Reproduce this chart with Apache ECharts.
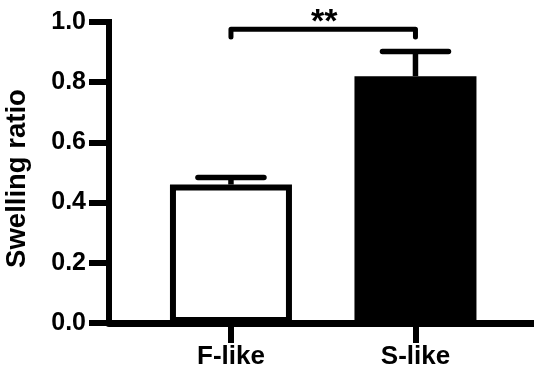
<!DOCTYPE html>
<html>
<head>
<meta charset="utf-8">
<script src="https://cdn.jsdelivr.net/npm/echarts@6/dist/echarts.min.js"></script>
<style>
html,body{margin:0;padding:0;background:#fff;}
#chart{width:534px;height:377px;}
</style>
</head>
<body>
<div id="chart"></div>
<script>
// ---- data ----
const categories = ['F-like', 'S-like'];
const categoryPositions = [0, 1];
const means = [0.46, 0.82];
const sems = [0.023, 0.082];
const barFills = ['#ffffff', '#000000'];
const sigPair = [0, 1];
const sigLevel = 0.976;
const sigDrop = 0.95;
const sigLabel = '**';
const yName = 'Swelling ratio';

// ---- chart ----
const FONT = '"Liberation Sans", Arial, Helvetica, sans-serif';
const chart = echarts.init(document.getElementById('chart'), null, {renderer: 'canvas'});

const barData = categoryPositions.map((p, i) => ({
  value: [p, means[i]],
  itemStyle: {color: barFills[i], borderColor: '#000', borderWidth: 6}
}));
const errData = categoryPositions.map((p, i) => [p, means[i], sems[i]]);
const sigData = [[sigPair[0], sigPair[1], sigLevel, sigDrop]];

const option = {
  animation: false,
  grid: {left: 109, right: 1, top: 22, bottom: 54, outerBoundsMode: 'none', containLabel: false},
  xAxis: {
    type: 'value',
    min: -0.661,
    max: 1.637,
    splitLine: {show: false},
    axisLine: {show: true, lineStyle: {color: '#000', width: 7}},
    axisTick: {show: true, customValues: categoryPositions, length: 20, lineStyle: {color: '#000', width: 6}},
    axisLabel: {
      customValues: categoryPositions,
      formatter: v => categories[Math.round(v)],
      margin: 21,
      color: '#000',
      fontSize: 26,
      fontWeight: 'bold',
      fontFamily: FONT
    }
  },
  yAxis: {
    type: 'value',
    min: 0,
    max: 1,
    interval: 0.2,
    name: yName,
    nameLocation: 'middle',
    nameGap: 78,
    nameMoveOverlap: false,
    nameTextStyle: {color: '#000', fontSize: 27.5, fontWeight: 'bold', fontFamily: FONT, padding: [0, 12, 0, 0]},
    splitLine: {show: false},
    axisLine: {show: true, onZero: false, lineStyle: {color: '#000', width: 6, cap: 'square'}},
    axisTick: {show: true, length: 20, lineStyle: {color: '#000', width: 6}},
    axisLabel: {
      margin: 23,
      color: '#000',
      fontSize: 25,
      fontWeight: 'bold',
      fontFamily: FONT,
      formatter: v => v.toFixed(1)
    }
  },
  series: [
    {
      type: 'bar',
      data: barData,
      barWidth: 122,
      z: 2
    },
    {
      type: 'custom',
      z: 3,
      data: errData,
      renderItem: function (params, api) {
        const x = api.value(0), m = api.value(1), s = api.value(2);
        const base = api.coord([x, m]);
        const top = api.coord([x, m + s]);
        const half = 33;
        const st = {stroke: '#000', lineWidth: 5.5, lineCap: 'round'};
        return {
          type: 'group',
          children: [
            {type: 'line', shape: {x1: base[0], y1: base[1], x2: top[0], y2: top[1]}, style: {stroke: '#000', lineWidth: 5.5}},
            {type: 'line', shape: {x1: top[0] - half, y1: top[1], x2: top[0] + half, y2: top[1]}, style: st}
          ]
        };
      }
    },
    {
      type: 'custom',
      z: 3,
      data: sigData,
      renderItem: function (params, api) {
        const a = api.value(0), b = api.value(1), lv = api.value(2), dr = api.value(3);
        const p1 = api.coord([a, dr]);
        const p2 = api.coord([a, lv]);
        const p3 = api.coord([b, lv]);
        const p4 = api.coord([b, dr]);
        const mid = api.coord([(a + b) / 2, lv]);
        return {
          type: 'group',
          children: [
            {type: 'polyline', shape: {points: [p1, p2, p3, p4]},
             style: {stroke: '#000', lineWidth: 5, fill: 'none', lineCap: 'round', lineJoin: 'round'}},
            {type: 'text', x: mid[0] + 1, y: mid[1] - 7,
             style: {text: sigLabel, fill: '#000', font: 'bold 34px ' + FONT, textAlign: 'center', textVerticalAlign: 'middle'}}
          ]
        };
      }
    }
  ]
};
chart.setOption(option);
</script>
</body>
</html>
